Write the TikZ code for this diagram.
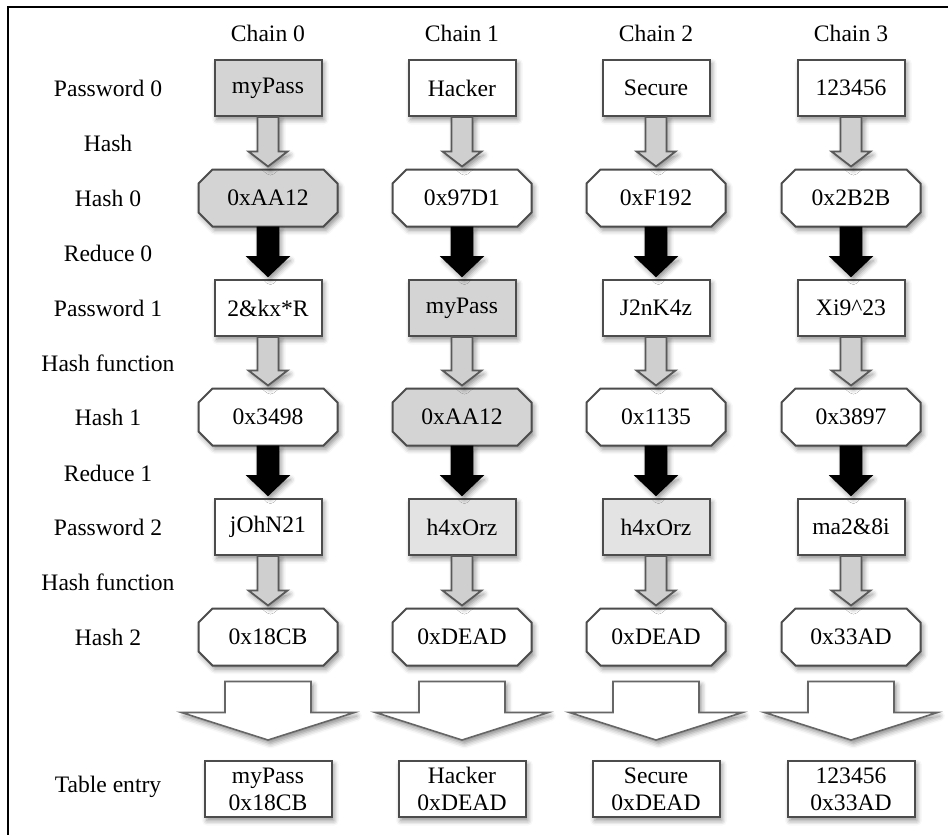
\documentclass[tikz,border=0pt]{standalone}
\usepackage{fontspec}
\setmainfont{Liberation Serif}
\usetikzlibrary{calc,shapes.misc,shadows.blur}

\tikzset{
    soft/.style={blur shadow={shadow xshift=1.2pt,shadow yshift=-1.8pt,
        shadow blur radius=2.5pt,shadow opacity=45}},
    pwbox/.style={rectangle,draw=black!70,line width=1pt,fill=white,
        minimum width=53.5pt,minimum height=28pt,soft},
    hashbox/.style={chamfered rectangle,chamfered rectangle xsep=3.5pt,
        chamfered rectangle ysep=3.5pt,
        draw=black!70,line width=1pt,fill=white,
        minimum width=69.5pt,minimum height=28.5pt,soft},
    entrybox/.style={rectangle,draw=black!70,line width=1pt,fill=white,
        minimum width=63.5pt,minimum height=28pt,inner sep=1pt,align=center,soft},
    hit/.style={fill=black!17},
    lighthit/.style={fill=black!11},
    % hollow grey arrow for the hash step
    hasharrow/.style={draw=black!65,fill=black!19,line width=0.9pt,line join=miter,soft,
        to path={let \p1=(\tikztostart), \p2=(\tikztotarget) in
            (\x1-5.25pt,\y1) -- (\x1-5.25pt,\y2+8.5pt) -- (\x1-9.75pt,\y2+8.5pt)
            -- (\x1,\y2+1pt) -- (\x1+9.75pt,\y2+8.5pt) -- (\x1+5.25pt,\y2+8.5pt)
            -- (\x1+5.25pt,\y1) -- cycle}},
    % solid black arrow for the reduce step
    reducearrow/.style={draw=black,fill=black,line width=0.9pt,line join=miter,soft,
        to path={let \p1=(\tikztostart), \p2=(\tikztotarget) in
            (\x1-5.25pt,\y1) -- (\x1-5.25pt,\y2+11pt) -- (\x1-10pt,\y2+11pt)
            -- (\x1,\y2+1.5pt) -- (\x1+10pt,\y2+11pt) -- (\x1+5.25pt,\y2+11pt)
            -- (\x1+5.25pt,\y1) -- cycle}},
    % wide white arrow down to the stored entry
    bigarrow/.style={draw=black!60,fill=white,line width=0.8pt,line join=miter,soft,
        to path={let \p1=(\tikztostart), \p2=(\tikztotarget) in
            (\x1-21.5pt,\y1-7.5pt) -- (\x1-21.5pt,\y1-23pt) -- (\x1-43.25pt,\y1-23pt)
            -- (\x1,\y2+10pt) -- (\x1+43.25pt,\y1-23pt) -- (\x1+21.5pt,\y1-23pt)
            -- (\x1+21.5pt,\y1-7.5pt) -- cycle}},
}

\begin{document}
\begin{tikzpicture}[x=0.5pt,y=-0.5pt,every node/.style={font=\fontsize{11.8}{13.5}\selectfont}]
\useasboundingbox (0,0) rectangle (948,835);
\draw[line width=1pt] (8,835) |- (948,7);

    % row names
    \node (lp0) at (108,88) {Password 0};
    \node (lhash) at (108,143) {Hash};
    \node (lh0) at (108,198) {Hash 0};
    \node (lr0) at (108,253) {Reduce 0};
    \node (lp1) at (108,308) {Password 1};
    \node (lhf1) at (108,363) {Hash function};
    \node (lh1) at (108,417) {Hash 1};
    \node (lr1) at (108,473) {Reduce 1};
    \node (lp2) at (108,527) {Password 2};
    \node (lhf2) at (108,582) {Hash function};
    \node (lh2) at (108,637) {Hash 2};
    \node (lt) at (108,787) {Table entry};

    % chain headers
    \node (c0) at (268,33) {Chain 0};
    \node (c1) at (462,33) {Chain 1};
    \node (c2) at (656,33) {Chain 2};
    \node (c3) at (851,33) {Chain 3};

    % chain 0
    \node[pwbox,hit] (p00) at (268,88) {myPass};
    \node[hashbox,hit] (h00) at (268,198) {0xAA12};
    \node[pwbox] (p10) at (268,308) {2\&kx*R};
    \node[hashbox] (h10) at (268,417) {0x3498};
    \node[pwbox] (p20) at (268,527) {jOhN21};
    \node[hashbox] (h20) at (268,637) {0x18CB};
    \node[entrybox] (t0) at (268,789) {myPass\\0x18CB};

    % chain 1
    \node[pwbox] (p01) at (462,88) {Hacker};
    \node[hashbox] (h01) at (462,198) {0x97D1};
    \node[pwbox,hit] (p11) at (462,308) {myPass};
    \node[hashbox,hit] (h11) at (462,417) {0xAA12};
    \node[pwbox,lighthit] (p21) at (462,527) {h4xOrz};
    \node[hashbox] (h21) at (462,637) {0xDEAD};
    \node[entrybox] (t1) at (462,789) {Hacker\\0xDEAD};

    % chain 2
    \node[pwbox] (p02) at (656,88) {Secure};
    \node[hashbox] (h02) at (656,198) {0xF192};
    \node[pwbox] (p12) at (656,308) {J2nK4z};
    \node[hashbox] (h12) at (656,417) {0x1135};
    \node[pwbox,lighthit] (p22) at (656,527) {h4xOrz};
    \node[hashbox] (h22) at (656,637) {0xDEAD};
    \node[entrybox] (t2) at (656,789) {Secure\\0xDEAD};

    % chain 3
    \node[pwbox] (p03) at (851,88) {123456};
    \node[hashbox] (h03) at (851,198) {0x2B2B};
    \node[pwbox] (p13) at (851,308) {Xi9\textasciicircum23};
    \node[hashbox] (h13) at (851,417) {0x3897};
    \node[pwbox] (p23) at (851,527) {ma2\&8i};
    \node[hashbox] (h23) at (851,637) {0x33AD};
    \node[entrybox] (t3) at (851,789) {123456\\0x33AD};

    \path (p00.south) edge[hasharrow] (h00.north);
    \path (h00.south) edge[reducearrow] (p10.north);
    \path (p10.south) edge[hasharrow] (h10.north);
    \path (h10.south) edge[reducearrow] (p20.north);
    \path (p20.south) edge[hasharrow] (h20.north);
    \path (h20.south) edge[bigarrow] (t0.north);

    \path (p01.south) edge[hasharrow] (h01.north);
    \path (h01.south) edge[reducearrow] (p11.north);
    \path (p11.south) edge[hasharrow] (h11.north);
    \path (h11.south) edge[reducearrow] (p21.north);
    \path (p21.south) edge[hasharrow] (h21.north);
    \path (h21.south) edge[bigarrow] (t1.north);

    \path (p02.south) edge[hasharrow] (h02.north);
    \path (h02.south) edge[reducearrow] (p12.north);
    \path (p12.south) edge[hasharrow] (h12.north);
    \path (h12.south) edge[reducearrow] (p22.north);
    \path (p22.south) edge[hasharrow] (h22.north);
    \path (h22.south) edge[bigarrow] (t2.north);

    \path (p03.south) edge[hasharrow] (h03.north);
    \path (h03.south) edge[reducearrow] (p13.north);
    \path (p13.south) edge[hasharrow] (h13.north);
    \path (h13.south) edge[reducearrow] (p23.north);
    \path (p23.south) edge[hasharrow] (h23.north);
    \path (h23.south) edge[bigarrow] (t3.north);

\end{tikzpicture}
\end{document}
